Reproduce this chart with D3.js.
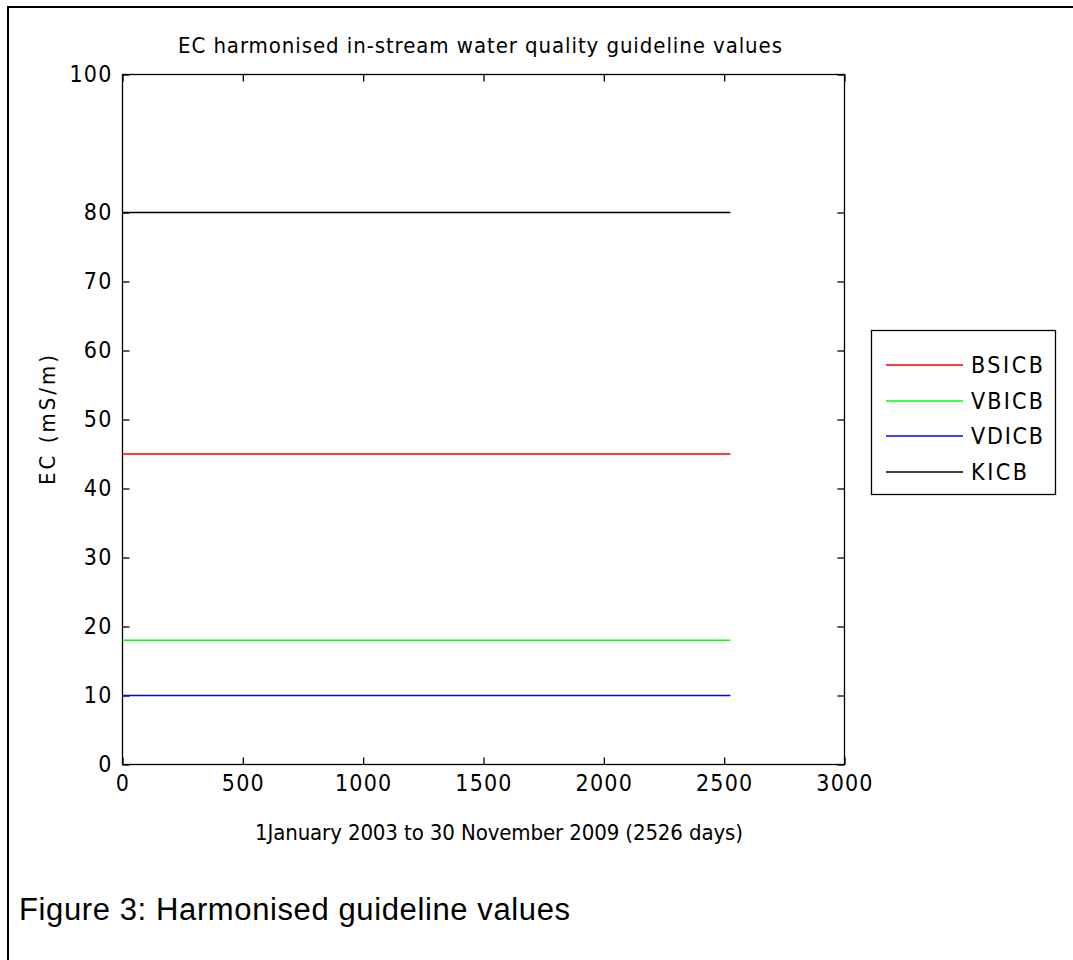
<!DOCTYPE html>
<html>
<head>
<meta charset="utf-8">
<script src="https://cdn.jsdelivr.net/npm/d3@7"></script>
<style>
  html, body { margin: 0; padding: 0; background: #fff; }
  svg { display: block; }
  text { fill: #000; }
  .mat { font-family: "Liberation Sans Narrow", "DejaVu Sans Condensed", "Liberation Sans", Arial, sans-serif; }
  .doc { font-family: "Liberation Sans", Arial, sans-serif; }
</style>
</head>
<body>
<svg id="chart" width="1073" height="960"></svg>
<script>
// Guideline series: constant value over the whole record (days 0 .. 2526)
const seriesNames = ["BSICB", "VBICB", "VDICB", "KICB"];
const seriesValues = [45, 18, 10, 80];
const seriesColors = ["#ff0000", "#00ff00", "#0000ff", "#000000"];
const dayRange = [0, 2526];
const xTicks = [0, 500, 1000, 1500, 2000, 2500, 3000];
const yTicks = [0, 10, 20, 30, 40, 50, 60, 70, 80, 100];

const titleText = "EC harmonised in-stream water quality guideline values";
const xLabelText = "1January 2003 to 30 November 2009 (2526 days)";
const yLabelText = "EC (mS/m)";
const captionText = "Figure 3: Harmonised guideline values";

const svg = d3.select("#chart");

// Outer figure frame (runs off the right and bottom edges)
svg.append("rect")
  .attr("x", 8).attr("y", 7)
  .attr("width", 1200).attr("height", 1200)
  .attr("fill", "none").attr("stroke", "#000").attr("stroke-width", 2);

const plot = { left: 122.5, right: 844.5, top: 74.5, bottom: 764.5 };

const x = d3.scaleLinear().domain([0, 3000]).range([plot.left, plot.right]);
const y = d3.scaleLinear().domain([0, 100]).range([plot.bottom, plot.top]);

const tickLen = 7;

// Axes box
svg.append("rect")
  .attr("x", plot.left).attr("y", plot.top)
  .attr("width", plot.right - plot.left).attr("height", plot.bottom - plot.top)
  .attr("fill", "#fff").attr("stroke", "#000").attr("stroke-width", 1.3);

// Bottom axis (ticks point inward)
const xAxis = svg.append("g")
  .attr("transform", `translate(0,${plot.bottom})`)
  .call(d3.axisBottom(x).tickValues(xTicks).tickSize(-tickLen).tickPadding(tickLen + 3).tickFormat(d3.format("d")));
// Top axis ticks
const xAxisTop = svg.append("g")
  .attr("transform", `translate(0,${plot.top})`)
  .call(d3.axisTop(x).tickValues(xTicks).tickSize(-tickLen).tickFormat(""));
// Left axis
const yAxis = svg.append("g")
  .attr("transform", `translate(${plot.left},0)`)
  .call(d3.axisLeft(y).tickValues(yTicks).tickSize(-tickLen).tickPadding(tickLen + 3).tickFormat(d3.format("d")));
// Right axis ticks
const yAxisRight = svg.append("g")
  .attr("transform", `translate(${plot.right},0)`)
  .call(d3.axisRight(y).tickValues(yTicks).tickSize(-tickLen).tickFormat(""));

[xAxis, xAxisTop, yAxis, yAxisRight].forEach(g => {
  g.attr("font-family", null).attr("font-size", null);
  g.select(".domain").remove();
  g.selectAll(".tick line").attr("stroke", "#000").attr("stroke-width", 1.3);
  g.selectAll(".tick text")
    .attr("class", "mat")
    .style("font-size", "23px")
    .style("letter-spacing", "1.2px")
    .attr("fill", "#000");
});

// Guideline lines
const line = d3.line().x(d => x(d[0])).y(d => y(d[1]));
seriesNames.forEach((name, i) => {
  svg.append("path")
    .datum(dayRange.map(d => [d, seriesValues[i]]))
    .attr("d", line)
    .attr("fill", "none")
    .attr("stroke", seriesColors[i])
    .attr("stroke-width", 1.6);
});

// Title
svg.append("text").attr("class", "mat")
  .attr("x", 480).attr("y", 53)
  .attr("text-anchor", "middle").style("font-size", "22px")
  .attr("textLength", 604).attr("lengthAdjust", "spacing")
  .text(titleText);

// X label
svg.append("text").attr("class", "mat")
  .attr("x", 499).attr("y", 840)
  .attr("text-anchor", "middle").style("font-size", "22px")
  .attr("textLength", 488).attr("lengthAdjust", "spacing")
  .text(xLabelText);

// Y label
svg.append("text").attr("class", "mat")
  .attr("transform", `translate(55,420) rotate(-90)`)
  .attr("text-anchor", "middle").style("font-size", "22px")
  .attr("textLength", 130).attr("lengthAdjust", "spacing")
  .text(yLabelText);

// Legend
const legend = { x: 871.5, y: 330.5, w: 184, h: 164 };
svg.append("rect")
  .attr("x", legend.x).attr("y", legend.y)
  .attr("width", legend.w).attr("height", legend.h)
  .attr("fill", "#fff").attr("stroke", "#000").attr("stroke-width", 1.3);

const legendRows = [365, 401, 436, 472];
const legendWidths = [72, 72, 72, 56];
seriesNames.forEach((name, i) => {
  svg.append("line")
    .attr("x1", 886).attr("x2", 963)
    .attr("y1", legendRows[i]).attr("y2", legendRows[i])
    .attr("stroke", seriesColors[i]).attr("stroke-width", 1.6);
  svg.append("text").attr("class", "mat")
    .attr("x", 971).attr("y", legendRows[i] + 8)
    .style("font-size", "23px")
    .attr("textLength", legendWidths[i]).attr("lengthAdjust", "spacing")
    .text(name);
});

// Figure caption
svg.append("text").attr("class", "doc")
  .attr("x", 19).attr("y", 920)
  .style("font-size", "31px")
  .attr("textLength", 551).attr("lengthAdjust", "spacing")
  .text(captionText);
</script>
</body>
</html>
